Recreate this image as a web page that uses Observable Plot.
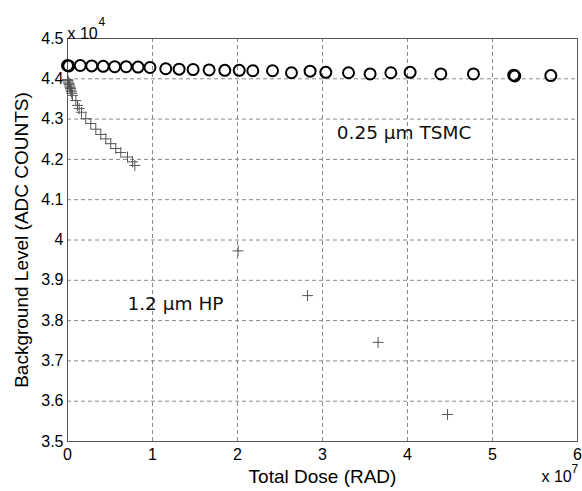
<!DOCTYPE html>
<html><head><meta charset="utf-8">
<script src="https://cdn.jsdelivr.net/npm/d3@7"></script>
<script src="https://cdn.jsdelivr.net/npm/@observablehq/plot@0.6"></script>
<style>body{margin:0;background:#fff} #chart{width:582px;height:491px}</style>
</head><body><div id="chart"></div>
<script>
// Total dose in units of 1e7 RAD, background level in units of 1e4 ADC counts
const tsmcDose = [0.0, 0.015, 0.15, 0.285, 0.42, 0.555, 0.69, 0.83, 0.97, 1.156, 1.313, 1.478, 1.666, 1.851, 2.02, 2.18, 2.412, 2.635, 2.854, 3.039, 3.306, 3.56, 3.804, 4.031, 4.392, 4.776, 5.25, 5.262, 5.686];
const tsmcLevel = [4.433, 4.432, 4.433, 4.432, 4.431, 4.430, 4.430, 4.429, 4.428, 4.425, 4.424, 4.423, 4.422, 4.421, 4.421, 4.420, 4.420, 4.415, 4.419, 4.416, 4.415, 4.412, 4.415, 4.416, 4.412, 4.412, 4.409, 4.407, 4.408];
const hpDose = [0.0, 0.005, 0.01, 0.015, 0.02, 0.025, 0.03, 0.035, 0.04, 0.045, 0.05, 0.059, 0.098, 0.118, 0.137, 0.165, 0.215, 0.274, 0.333, 0.392, 0.451, 0.509, 0.568, 0.627, 0.706, 0.765, 0.792, 2.007, 2.824, 3.654, 4.471];
const hpLevel = [4.398, 4.396, 4.392, 4.389, 4.386, 4.382, 4.379, 4.376, 4.372, 4.368, 4.364, 4.359, 4.346, 4.334, 4.326, 4.317, 4.301, 4.289, 4.275, 4.262, 4.251, 4.239, 4.227, 4.217, 4.206, 4.194, 4.185, 3.973, 3.862, 3.746, 3.567];
const xTicks = [0, 1, 2, 3, 4, 5, 6];
const yTicks = [3.5, 3.6, 3.7, 3.8, 3.9, 4.0, 4.1, 4.2, 4.3, 4.4, 4.5];
const labels = [
  {x: 3.96, y: 4.265, text: "0.25 \u00b5m TSMC"},
  {x: 1.27, y: 3.84, text: "1.2 \u00b5m HP"}
];

const tsmc = tsmcDose.map((d, i) => ({dose: d, level: tsmcLevel[i]}));
const hp = hpDose.map((d, i) => ({dose: d, level: hpLevel[i]}));
const fmt = d => String(+d.toFixed(1));

const chart = Plot.plot({
  width: 582, height: 491,
  marginLeft: 67, marginRight: 5, marginTop: 38, marginBottom: 50,
  style: {fontFamily: "'Liberation Sans', Arial, sans-serif", fontSize: "16px", color: "#000", background: "#fff", overflow: "visible"},
  x: {domain: [0, 6]},
  y: {domain: [3.5, 4.5]},
  marks: [
    Plot.gridX(xTicks.slice(1, -1), {stroke: "#888", strokeOpacity: 1, strokeDasharray: "4,3"}),
    Plot.gridY(yTicks.slice(1, -1), {stroke: "#888", strokeOpacity: 1, strokeDasharray: "4,3"}),
    Plot.frame({stroke: "#555"}),
    Plot.axisX(xTicks, {tickSize: 0, tickPadding: 7, label: null, tickFormat: fmt, fontSize: 16}),
    Plot.axisY(yTicks, {tickSize: 0, tickPadding: 4, label: null, tickFormat: fmt, fontSize: 16}),
    Plot.dot(hp, {x: "dose", y: "level", symbol: "plus", r: 3.6, stroke: "#555", strokeWidth: 1}),
    Plot.dot(tsmc, {x: "dose", y: "level", r: 5.5, stroke: "#000", strokeWidth: 2, fill: "none"}),
    Plot.text(labels, {x: "x", y: "y", text: "text", fontFamily: "'DejaVu Sans', sans-serif", fontSize: 18.5, fill: "#111"}),
    Plot.text(["Total Dose (RAD)"], {frameAnchor: "bottom", dy: 41, fontSize: 19}),
    Plot.text(["Background Level (ADC COUNTS)"], {frameAnchor: "left", textAnchor: "middle", dx: -46, dy: 0, rotate: -90, fontSize: 19}),
    Plot.text(["x 10"], {frameAnchor: "top-left", dx: 0, dy: -11, textAnchor: "start", fontSize: 16}),
    Plot.text(["4"], {frameAnchor: "top-left", dx: 31, dy: -21, textAnchor: "start", fontSize: 12}),
    Plot.text(["x 10"], {frameAnchor: "bottom-right", dx: -36, dy: 40, textAnchor: "start", fontSize: 16}),
    Plot.text(["7"], {frameAnchor: "bottom-right", dx: -6, dy: 31, textAnchor: "start", fontSize: 12})
  ]
});
document.getElementById("chart").appendChild(chart);
</script>
</body></html>
